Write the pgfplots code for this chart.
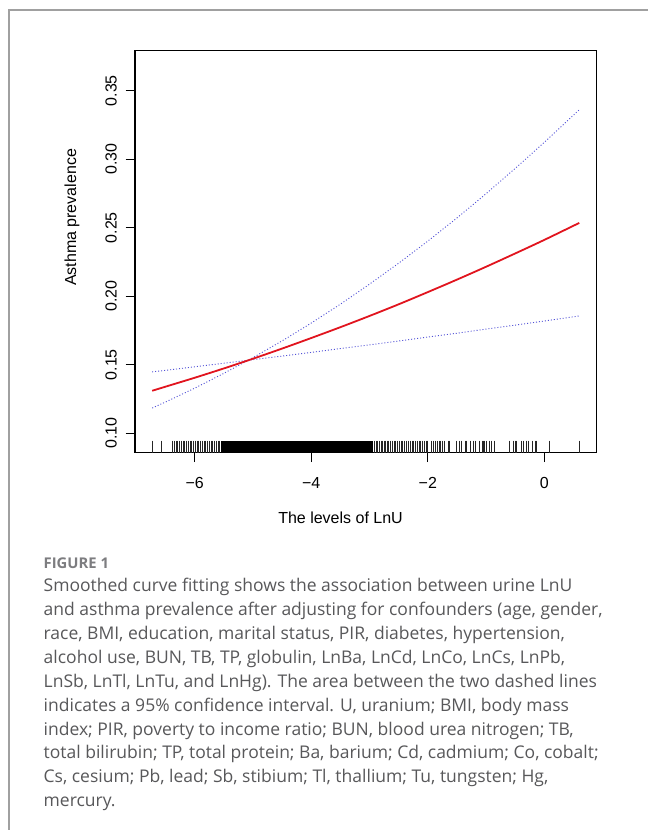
\documentclass[border=0pt]{standalone}
\usepackage{pgfplots}
\pgfplotsset{compat=1.18}
\usepackage{fontspec}
\setmainfont{Liberation Sans}
\newfontfamily\capfont{Open Sans}
\definecolor{cired}{RGB}{225,20,30}
\definecolor{ciblue}{RGB}{80,80,215}
\definecolor{framegray}{RGB}{160,160,160}
\definecolor{capgray}{RGB}{88,88,90}
\definecolor{figgray}{RGB}{125,125,128}
\begin{document}
\begin{tikzpicture}[x=1bp,y=1bp]
\path[use as bounding box] (0,0) rectangle (648,830);
\fill[white] (0,0) rectangle (648,830);
\draw[framegray, line width=1.4bp] (9,0) -- (9,820) -- (648,820);
\begin{axis}[
  at={(135bp,377.3bp)}, anchor=south west,
  scale only axis, width=461.2bp, height=402.4bp,
  xmin=-7.025, xmax=0.891, ymin=0.0858, ymax=0.3795,
  axis line style={line width=1.1bp},
  xtick={-6,-4,-2,0}, xticklabels={−6,−4,−2,0},
  ytick={0.10,0.15,0.20,0.25,0.30,0.35},
  yticklabels={0.10,0.15,0.20,0.25,0.30,0.35},
  xtick pos=left, ytick pos=left,
  tick align=outside, major tick length=9.5bp,
  tick style={line width=1.1bp, black},
  ticklabel style={font=\fontsize{16bp}{19bp}\selectfont},
  xticklabel style={anchor=base, inner sep=0pt, yshift=-26.8bp},
  yticklabel style={xshift=-8.8bp, rotate=90, anchor=base, inner sep=0pt},
  xlabel={The levels of LnU},
  ylabel={Asthma prevalence},
  every axis x label/.style={at={(axis description cs:0.4456,-0.1754)}, anchor=base, inner sep=0pt, font=\fontsize{16bp}{19bp}\selectfont},
  every axis y label/.style={at={(axis description cs:-0.1279,0.5845)}, rotate=90, anchor=base, inner sep=0pt, font=\fontsize{16bp}{19bp}\selectfont},
]
% rug: solid dense block
\addplot[fill=black, draw=none] coordinates {(-5.55,0.0858) (-5.55,0.0946) (-2.94,0.0946) (-2.94,0.0858)} -- cycle;
% rug ticks
\addplot[only marks, mark=|, mark size=6bp, mark options={line width=0.9bp, black!85}] coordinates {
(-6.73,0.0902) (-6.57,0.0902)
(-6.38,0.0902) (-6.35,0.0902) (-6.32,0.0902) (-6.29,0.0902) (-6.26,0.0902) (-6.23,0.0902) (-6.20,0.0902)
(-6.17,0.0902) (-6.14,0.0902) (-6.11,0.0902) (-6.08,0.0902) (-6.05,0.0902) (-6.02,0.0902) (-5.99,0.0902)
(-5.96,0.0902) (-5.93,0.0902) (-5.90,0.0902) (-5.87,0.0902) (-5.84,0.0902) (-5.81,0.0902) (-5.78,0.0902)
(-5.75,0.0902) (-5.72,0.0902) (-5.69,0.0902) (-5.66,0.0902) (-5.63,0.0902) (-5.60,0.0902) (-5.57,0.0902)
(-2.91,0.0902) (-2.88,0.0902) (-2.86,0.0902) (-2.83,0.0902) (-2.80,0.0902) (-2.78,0.0902) (-2.75,0.0902)
(-2.72,0.0902) (-2.70,0.0902) (-2.67,0.0902) (-2.64,0.0902) (-2.61,0.0902) (-2.58,0.0902) (-2.55,0.0902)
(-2.52,0.0902) (-2.49,0.0902) (-2.46,0.0902) (-2.43,0.0902) (-2.40,0.0902) (-2.37,0.0902) (-2.33,0.0902)
(-2.30,0.0902) (-2.27,0.0902) (-2.24,0.0902) (-2.21,0.0902) (-2.18,0.0902) (-2.15,0.0902) (-2.12,0.0902)
(-2.09,0.0902) (-2.06,0.0902) (-2.03,0.0902) (-2.00,0.0902)
(-1.93,0.0902) (-1.90,0.0902) (-1.86,0.0902) (-1.83,0.0902) (-1.80,0.0902) (-1.78,0.0902) (-1.74,0.0902)
(-1.72,0.0902) (-1.65,0.0902) (-1.62,0.0902) (-1.50,0.0902) (-1.46,0.0902) (-1.42,0.0902) (-1.36,0.0902)
(-1.33,0.0902) (-1.26,0.0902) (-1.22,0.0902) (-1.19,0.0902) (-1.12,0.0902) (-1.07,0.0902) (-1.05,0.0902)
(-1.02,0.0902) (-0.99,0.0902) (-0.94,0.0902) (-0.90,0.0902) (-0.85,0.0902)
(-0.59,0.0902) (-0.53,0.0902) (-0.50,0.0902) (-0.47,0.0902) (-0.39,0.0902) (-0.35,0.0902) (-0.31,0.0902)
(-0.27,0.0902) (-0.20,0.0902) (-0.16,0.0902) (-0.13,0.0902) (0.08,0.0902) (0.60,0.0902)
};
% confidence limits
\addplot[ciblue, line width=0.9bp, dash pattern=on 1bp off 2bp] coordinates {
(-6.73,0.1184) (-6.5,0.1228) (-6,0.1329) (-5.5,0.1437) (-5,0.1552) (-4.5,0.1674) (-4,0.1804) (-3.5,0.1942)
(-3,0.2088) (-2.5,0.2241) (-2,0.2402) (-1.5,0.2571) (-1,0.2748) (-0.5,0.2933) (0,0.3123) (0.6,0.3361)};
\addplot[ciblue, line width=0.9bp, dash pattern=on 1bp off 2bp] coordinates {
(-6.73,0.1448) (-6.5,0.1459) (-6,0.1485) (-5.5,0.1511) (-5,0.1537) (-4.5,0.1563) (-4,0.1590) (-3.5,0.1618)
(-3,0.1645) (-2.5,0.1673) (-2,0.1702) (-1.5,0.1730) (-1,0.1760) (-0.5,0.1789) (0,0.1819) (0.6,0.1856)};
% fitted curve
\addplot[cired, line width=1.8bp, smooth] coordinates {
(-6.73,0.1310) (-6.5,0.1340) (-6,0.1405) (-5.5,0.1473) (-5,0.1544) (-4.5,0.1618) (-4,0.1695) (-3.5,0.1774)
(-3,0.1856) (-2.5,0.1941) (-2,0.2030) (-1.5,0.2121) (-1,0.2215) (-0.5,0.2312) (0,0.2411) (0.6,0.2535)};
\end{axis}
\node[anchor=base west, inner sep=0, text=figgray, font=\capfont\bfseries\fontsize{14.8bp}{18bp}\selectfont] at (43.5,261.7) {FIGURE 1};
\begin{scope}[every node/.style={anchor=base west, inner sep=0, text=capgray, font=\capfont\fontsize{17.5bp}{20bp}\selectfont}]
\node at (43.5,238.3) {Smoothed curve fitting shows the association between urine LnU};
\node at (43.5,214.4) {and asthma prevalence after adjusting for confounders (age, gender,};
\node at (43.5,190.5) {race, BMI, education, marital status, PIR, diabetes, hypertension,};
\node at (43.5,166.6) {alcohol use, BUN, TB, TP, globulin, LnBa, LnCd, LnCo, LnCs, LnPb,};
\node at (43.5,142.7) {LnSb, LnTl, LnTu, and LnHg). The area between the two dashed lines};
\node at (43.5,118.8) {indicates a 95\% confidence interval. U, uranium; BMI, body mass};
\node at (43.5,94.9) {index; PIR, poverty to income ratio; BUN, blood urea nitrogen; TB,};
\node at (43.5,71.0) {total bilirubin; TP, total protein; Ba, barium; Cd, cadmium; Co, cobalt;};
\node at (43.5,47.1) {Cs, cesium; Pb, lead; Sb, stibium; Tl, thallium; Tu, tungsten; Hg,};
\node at (43.5,23.2) {mercury.};
\end{scope}
\end{tikzpicture}
\end{document}
